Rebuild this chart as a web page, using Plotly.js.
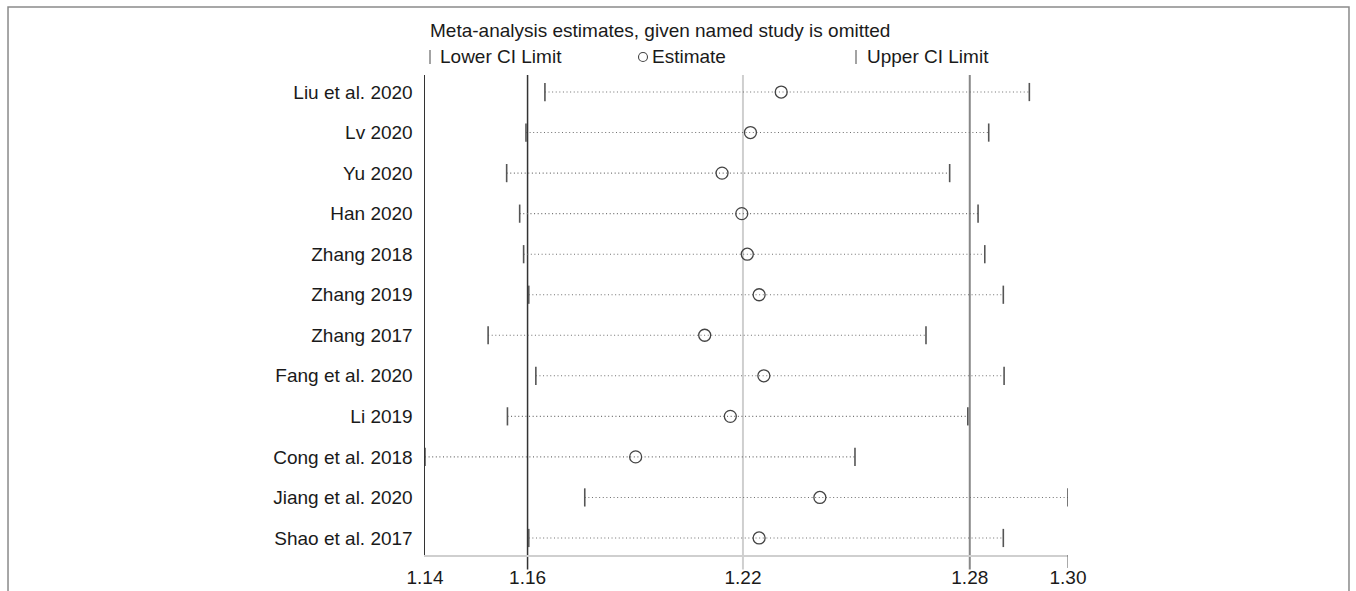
<!DOCTYPE html>
<html>
<head>
<meta charset="utf-8">
<script src="https://cdn.plot.ly/plotly-3.0.1.min.js"></script>
<style>
  html, body { margin: 0; padding: 0; background: #fff; }
  #chart { width: 1356px; height: 591px; }
</style>
</head>
<body>
<div id="chart"></div>
<script>
// Studies (top to bottom)
const studies = ["Liu et al. 2020", "Lv 2020", "Yu 2020", "Han 2020", "Zhang 2018", "Zhang 2019",
  "Zhang 2017", "Fang et al. 2020", "Li 2019", "Cong et al. 2018", "Jiang et al. 2020", "Shao et al. 2017"];
// Meta-analysis estimates when the named study is omitted
const lowerCI  = [1.1684, 1.1636, 1.1587, 1.1620, 1.1630, 1.1643, 1.1540, 1.1661, 1.1589, 1.1380, 1.1785, 1.1643];
const estimate = [1.2283, 1.2205, 1.2133, 1.2183, 1.2197, 1.2227, 1.2089, 1.2239, 1.2154, 1.1914, 1.2381, 1.2227];
const upperCI  = [1.2912, 1.2809, 1.2710, 1.2782, 1.2799, 1.2846, 1.2650, 1.2848, 1.2756, 1.2470, 1.3010, 1.2846];
// Overall combined estimate: lower CI, estimate, upper CI
const overall = [1.1640, 1.2186, 1.2761];
// Axis extent (min of lower limits, max of upper limits) and tick labels
const axisExtent = [1.1380, 1.3010];
const tickValues = [1.1380, 1.1640, 1.2186, 1.2761, 1.3010];
const tickLabels = ["1.14", "1.16", "1.22", "1.28", "1.30"];
// Legend entries
const legendLabels = ["Lower CI Limit", "Estimate", "Upper CI Limit"];

const idx = studies.map((_, i) => i);

// dotted connecting lines
const lx = [], ly = [];
idx.forEach(i => { lx.push(lowerCI[i], upperCI[i], null); ly.push(i, i, null); });

const FONT = "Liberation Sans, Arial, sans-serif";
const TXT = "#1a1a1a";

const traces = [
  {
    x: lx, y: ly, type: "scatter", mode: "lines", showlegend: false, hoverinfo: "skip",
    line: { color: "#6f6f6f", width: 1.1, dash: "1px,2.6px" }
  },
  {
    x: lowerCI, y: idx, type: "scatter", mode: "markers", name: legendLabels[0], showlegend: false,
    marker: { symbol: "line-ns", size: 13, color: "#555", line: { color: "#555", width: 1.6 } }
  },
  {
    x: estimate, y: idx, type: "scatter", mode: "markers", name: legendLabels[1], showlegend: false,
    marker: { symbol: "circle-open", size: 12, color: "#444", line: { color: "#444", width: 1.3 } }
  },
  {
    x: upperCI, y: idx, type: "scatter", mode: "markers", name: legendLabels[2], showlegend: false,
    marker: { symbol: "line-ns", size: 13, color: "#555", line: { color: "#555", width: 1.6 } }
  }
];

const refColors = ["#333", "#cfcfcf", "#888"];
const refWidths = [1.5, 2, 2];
const shapes = overall.map((v, k) => ({
  type: "line", xref: "x", yref: "paper", x0: v, x1: v, y0: -0.03, y1: 1,
  line: { color: refColors[k], width: refWidths[k] }, layer: "below"
}));
// tick mark at the axis maximum
shapes.push({
  type: "line", xref: "x", yref: "paper", x0: axisExtent[1], x1: axisExtent[1], y0: 0, y1: -0.027,
  line: { color: "#555", width: 1 }
});
// outer frame
shapes.push({
  type: "path", xref: "paper", yref: "paper",
  path: "M -0.6485 -0.2 L -0.6485 1.1417 L 1.4370 1.1417 L 1.4370 -0.2",
  line: { color: "#8a8a8a", width: 1.5 }
});
// legend key symbols (paper coordinates)
const px = p => (p - 425) / 643;
const py = p => (555 - p) / 480;
shapes.push({ type: "line", xref: "paper", yref: "paper", x0: px(430), x1: px(430), y0: py(50), y1: py(64),
  line: { color: "#666", width: 1.2 } });
shapes.push({ type: "circle", xref: "paper", yref: "paper", x0: px(638.5), x1: px(647.5), y0: py(61.5), y1: py(52.5),
  line: { color: "#444", width: 1.1 } });
shapes.push({ type: "line", xref: "paper", yref: "paper", x0: px(856), x1: px(856), y0: py(50), y1: py(64),
  line: { color: "#666", width: 1.2 } });

const legendX = [px(438), px(650), px(865)];
const annotations = legendLabels.map((t, k) => ({
  text: t, xref: "paper", yref: "paper", x: legendX[k], y: py(57), xanchor: "left", yanchor: "middle",
  showarrow: false, font: { family: FONT, size: 19, color: TXT }
}));

const layout = {
  width: 1356, height: 591,
  margin: { l: 425, r: 288, t: 75, b: 36 },
  paper_bgcolor: "#fff", plot_bgcolor: "#fff",
  font: { family: FONT, color: TXT },
  title: {
    text: "Meta-analysis estimates, given named study is omitted",
    font: { family: FONT, size: 19, color: TXT },
    xref: "paper", yref: "container", x: px(430), xanchor: "left", y: 1 - 30 / 591, yanchor: "middle"
  },
  showlegend: false,
  xaxis: {
    range: axisExtent, showgrid: false, zeroline: false,
    showline: true, linecolor: "#cfcfcf", linewidth: 2,
    tickmode: "array", tickvals: tickValues, ticktext: tickLabels,
    ticks: "", ticklabelstandoff: 4,
    tickfont: { family: FONT, size: 19, color: TXT },
    automargin: false, fixedrange: true
  },
  yaxis: {
    range: [11.42, -0.42], showgrid: false, zeroline: false,
    showline: true, linecolor: "#333", linewidth: 1.5,
    tickmode: "array", tickvals: idx, ticktext: studies, ticks: "",
    ticklabelstandoff: 7,
    tickfont: { family: FONT, size: 19, color: TXT },
    automargin: false, fixedrange: true
  },
  shapes: shapes,
  annotations: annotations
};

Plotly.newPlot("chart", traces, layout, { displayModeBar: false, staticPlot: true });
</script>
</body>
</html>
